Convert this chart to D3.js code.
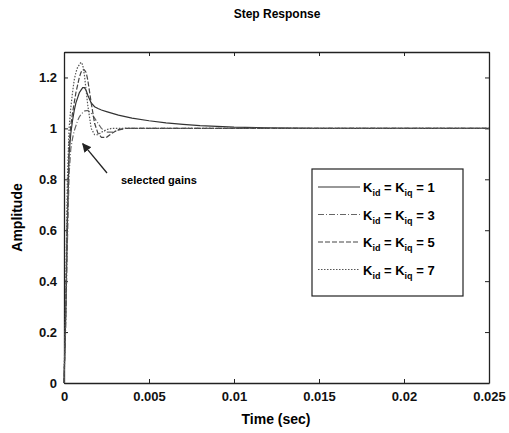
<!DOCTYPE html>
<html>
<head>
<meta charset="utf-8">
<script src="https://cdn.jsdelivr.net/npm/d3@7"></script>
<style>
  body { margin: 0; background: #fff; }
  svg { font-family: "Liberation Sans", Arial, sans-serif; }
</style>
</head>
<body>
<div id="chart"></div>
<script>
// time samples (sec)
const times = [0, 0.0001, 0.0002, 0.0003, 0.0004, 0.0005, 0.0006, 0.0007, 0.0008, 0.0009,
  0.001, 0.0011, 0.0012, 0.0013, 0.0014, 0.0016, 0.0018, 0.002, 0.0022, 0.0025,
  0.0028, 0.0032, 0.0036, 0.004, 0.005, 0.006, 0.007, 0.008, 0.01, 0.012, 0.015, 0.02, 0.025];

// step response per gain
const k1 = [0, 0.25, 0.62, 0.90, 0.98, 1.03, 1.07, 1.10, 1.12, 1.14,
  1.15, 1.16, 1.16, 1.15, 1.13, 1.10, 1.085, 1.078, 1.072, 1.066,
  1.06, 1.052, 1.046, 1.04, 1.03, 1.022, 1.016, 1.011, 1.005, 1.002, 1.0, 1.0, 1.0];
const k3 = [0, 0.22, 0.55, 0.82, 0.92, 0.96, 0.99, 1.01, 1.03, 1.045,
  1.055, 1.062, 1.068, 1.07, 1.07, 1.06, 1.04, 1.02, 1.0, 0.985,
  0.985, 0.993, 1.0, 1.0, 1.0, 1.0, 1.0, 1.0, 1.0, 1.0, 1.0, 1.0, 1.0];
const k5 = [0, 0.28, 0.68, 0.94, 1.01, 1.06, 1.10, 1.14, 1.17, 1.20,
  1.22, 1.23, 1.23, 1.22, 1.19, 1.10, 1.02, 0.98, 0.965, 0.965,
  0.98, 0.995, 1.0, 1.0, 1.0, 1.0, 1.0, 1.0, 1.0, 1.0, 1.0, 1.0, 1.0];
const k7 = [0, 0.35, 0.80, 1.00, 1.08, 1.14, 1.19, 1.22, 1.24, 1.25,
  1.26, 1.25, 1.21, 1.15, 1.09, 1.00, 0.975, 0.975, 0.985, 0.995,
  1.0, 1.0, 1.0, 1.0, 1.0, 1.0, 1.0, 1.0, 1.0, 1.0, 1.0, 1.0, 1.0];

const gains = ["1", "3", "5", "7"];
const xTicks = [0, 0.005, 0.01, 0.015, 0.02, 0.025];
const yTicks = [0, 0.2, 0.4, 0.6, 0.8, 1, 1.2];

const series = [
  { k: gains[0], values: k1, dash: null, color: "#333" },
  { k: gains[1], values: k3, dash: "6,2,1,2", color: "#666" },
  { k: gains[2], values: k5, dash: "5,2", color: "#444" },
  { k: gains[3], values: k7, dash: "1.5,1.5", color: "#555" }
];

const W = 509, H = 433;
const m = { left: 64, right: 489, top: 52, bottom: 383 };

const svg = d3.select("#chart").append("svg")
  .attr("width", W).attr("height", H);

const x = d3.scaleLinear().domain([0, 0.025]).range([m.left, m.right]);
const y = d3.scaleLinear().domain([0, 1.3]).range([m.bottom, m.top]);

// axes, MATLAB style ticks pointing inward
const axisText = g => g.selectAll("text")
  .attr("font-size", 13).attr("font-weight", "bold").attr("fill", "#111");

svg.append("g")
  .attr("transform", `translate(0,${m.bottom})`)
  .call(d3.axisBottom(x).tickValues(xTicks).tickFormat(d3.format("")).tickSizeInner(-4).tickSizeOuter(0).tickPadding(9))
  .call(axisText);
svg.append("g")
  .attr("transform", `translate(0,${m.top})`)
  .call(d3.axisTop(x).tickValues(xTicks).tickFormat("").tickSizeInner(-4).tickSizeOuter(0));
svg.append("g")
  .attr("transform", `translate(${m.left},0)`)
  .call(d3.axisLeft(y).tickValues(yTicks).tickFormat(d3.format("")).tickSizeInner(-4).tickSizeOuter(0).tickPadding(7))
  .call(axisText);
svg.append("g")
  .attr("transform", `translate(${m.right},0)`)
  .call(d3.axisRight(y).tickValues(yTicks).tickFormat("").tickSizeInner(-4).tickSizeOuter(0));

svg.selectAll(".domain").attr("stroke", "#222").attr("stroke-width", 1.3);
svg.selectAll(".tick line").attr("stroke", "#222");

// curves
const line = d3.line()
  .x((d, i) => x(times[i]))
  .y(d => y(d));

svg.append("g").selectAll("path")
  .data(series)
  .join("path")
  .attr("d", d => line(d.values))
  .attr("fill", "none")
  .attr("stroke", d => d.color)
  .attr("stroke-width", 1.2)
  .attr("stroke-dasharray", d => d.dash);

// annotation
svg.append("defs").append("marker")
  .attr("id", "arr").attr("viewBox", "0 0 10 10")
  .attr("refX", 9).attr("refY", 5)
  .attr("markerWidth", 7).attr("markerHeight", 7)
  .attr("orient", "auto")
  .append("path").attr("d", "M0,0 L10,5 L0,10 z").attr("fill", "#222");

svg.append("line")
  .attr("x1", 107).attr("y1", 173)
  .attr("x2", x(0.0011)).attr("y2", y(0.94))
  .attr("stroke", "#222").attr("stroke-width", 1.3)
  .attr("marker-end", "url(#arr)");

svg.append("text")
  .attr("x", 121).attr("y", 184)
  .attr("font-size", 11).attr("font-weight", "bold")
  .text("selected gains");

// legend
const lg = svg.append("g");
lg.append("rect")
  .attr("x", 312).attr("y", 169).attr("width", 151).attr("height", 127)
  .attr("fill", "#fff").attr("stroke", "#222").attr("stroke-width", 1.2);

const rows = lg.selectAll(".row").data(series).join("g")
  .attr("transform", (d, i) => `translate(0,${187 + i * 27.5})`);
rows.append("line")
  .attr("x1", 318).attr("x2", 360).attr("y1", 0).attr("y2", 0)
  .attr("stroke", d => d.color).attr("stroke-width", 1.2)
  .attr("stroke-dasharray", d => d.dash);
const t = rows.append("text")
  .attr("x", 363).attr("y", 5)
  .attr("font-size", 13).attr("font-weight", "bold");
t.append("tspan").text("K");
t.append("tspan").attr("font-size", 9).attr("dy", 4).text("id");
t.append("tspan").attr("dy", -4).text(" = K");
t.append("tspan").attr("font-size", 9).attr("dy", 4).text("iq");
t.append("tspan").attr("dy", -4).text(d => " = " + d.k);

// titles
svg.append("text")
  .attr("x", 277).attr("y", 18).attr("text-anchor", "middle")
  .attr("font-size", 12).attr("font-weight", "bold")
  .text("Step Response");
svg.append("text")
  .attr("x", 276).attr("y", 424).attr("text-anchor", "middle")
  .attr("font-size", 14).attr("font-weight", "bold")
  .text("Time (sec)");
svg.append("text")
  .attr("transform", `translate(22,${(m.top + m.bottom) / 2}) rotate(-90)`)
  .attr("text-anchor", "middle")
  .attr("font-size", 14).attr("font-weight", "bold")
  .text("Amplitude");
</script>
</body>
</html>
